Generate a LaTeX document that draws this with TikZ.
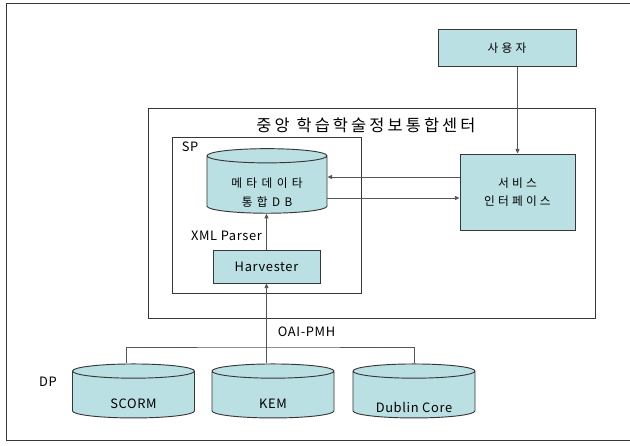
\documentclass[tikz,border=0pt]{standalone}
\usepackage{fontspec}
\setmainfont{Noto Sans CJK KR}[LetterSpace=5]
\newfontfamily\krfont{Noto Sans CJK KR}[LetterSpace=27]
\newfontfamily\dbfont{Noto Sans CJK KR}[LetterSpace=15]
\newfontfamily\titlefont{Noto Sans CJK KR}[LetterSpace=19]
\usetikzlibrary{arrows.meta, shapes.geometric, positioning}
\definecolor{boxfill}{RGB}{187,224,227}
\definecolor{boxline}{RGB}{55,55,55}
\definecolor{wire}{RGB}{85,85,85}
\newcommand{\lowered}[2]{\raisebox{-#1}[\height][\depth]{\makebox[40pt]{#2}}}

\begin{document}
\begin{tikzpicture}[
  x=0.03cm, y=-0.03cm,
  box/.style={draw=boxline, fill=boxfill, line width=0.8pt,
              align=center, font=\fontsize{11}{15}\selectfont},
  dbbox/.style={box, cylinder, shape border rotate=90, aspect=0.26,
                minimum width=3.66cm, minimum height=1.62cm},
  frame/.style={draw=boxline, line width=0.7pt},
  lbl/.style={inner sep=0pt, font=\fontsize{11}{13}\selectfont},
  arr/.style={-{Triangle[length=4pt,width=3.5pt]}, wire, line width=0.7pt},
  wireline/.style={wire, line width=0.7pt}
]
\useasboundingbox (0,0) rectangle (630,446);
% outer frame, open on the right
\draw[frame] (630,3) -- (6,3) -- (6,440) -- (630,440);

\node[box, font=\krfont\fontsize{10}{14}\selectfont,
      minimum width=4.14cm, minimum height=1.11cm] (user) at (507,48) {사용자};
\node[frame, minimum width=13.41cm, minimum height=6.3cm] (center) at (371.5,213) {};
\node[font=\titlefont\fontsize{14}{16}\selectfont] (title) at (366,125) {중앙 학습학술정보통합센터};
\node[box, font=\krfont\fontsize{10}{16}\selectfont,
      minimum width=3.45cm, minimum height=2.28cm] (svc) at (517.5,192) {서비스\\인터페이스};
\node[frame, minimum width=5.67cm, minimum height=4.68cm] (sp) at (266.5,215) {};
\node[lbl] (splbl) at (190,147) {SP};
\node[dbbox, font=\dbfont\fontsize{10}{16}\selectfont,
      minimum width=3.6cm, minimum height=1.56cm] (db) at (267,186)
      {\lowered{6pt}{\begin{tabular}{@{}c@{}}메 타 데 이 타\\통 합 D B\end{tabular}}};
\node[box, minimum width=3.21cm, minimum height=0.99cm] (harv) at (266.5,266.5) {Harvester};
\node[lbl] (xml) at (226.5,236) {XML Parser};

\node[lbl] (dp) at (48,382) {DP};
\node[dbbox] (scorm) at (133.5,396) {\lowered{6.4pt}{SCORM}};
\node[dbbox] (kem) at (273,396) {\lowered{6.4pt}{KEM}};
\node[dbbox] (dublin) at (414,396) {\lowered{9.4pt}{Dublin Core}};
\node[lbl] (oai) at (306.5,332) {OAI-PMH};

\coordinate (in1) at ([yshift=0.45cm]svc.west);
\coordinate (out1) at ([yshift=-0.18cm]svc.west);
\coordinate (bus) at (267,347);

\draw[arr] (user.south -| svc.north) -- (svc.north);
\draw[arr] (in1) -- (in1 -| db.east);
\draw[arr] (out1 -| db.east) -- (out1);
\draw[arr] (harv.north) -- (harv.north |- db.south);
\draw[arr] (harv.south |- kem.north) -- (harv.south);
\draw[wireline] ([xshift=-0.2cm]scorm.north) |- (bus) -| (dublin.north);
\end{tikzpicture}
\end{document}
